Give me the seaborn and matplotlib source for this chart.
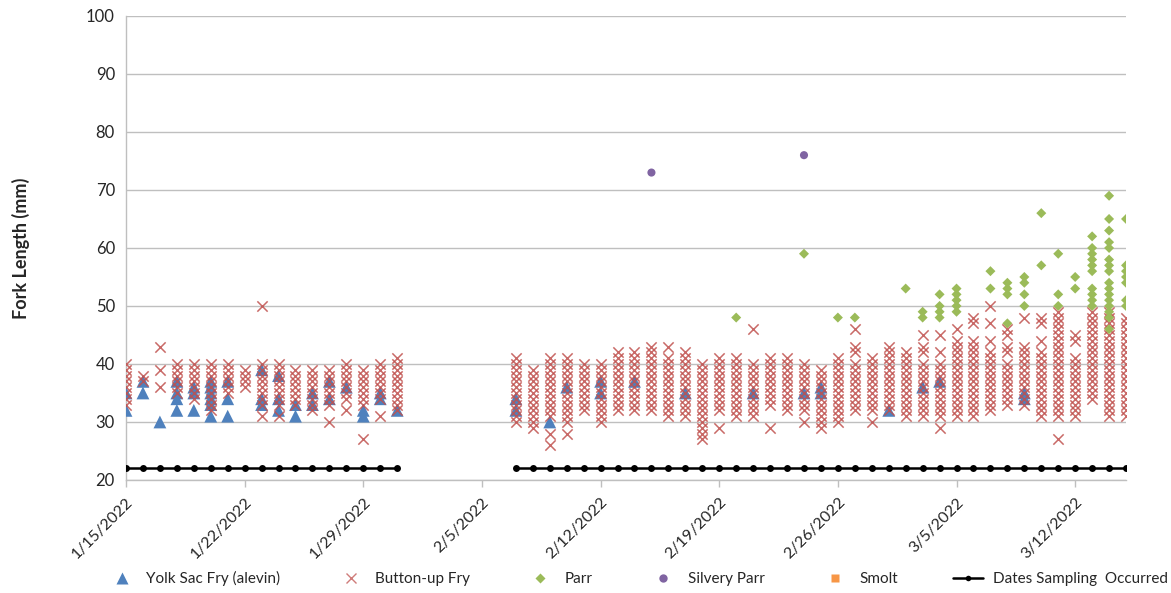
import pandas as pd
import seaborn as sns
import matplotlib.pyplot as plt
from matplotlib.lines import Line2D

# Days on which sampling occurred (line drawn at 22 mm)
sample_dates = [
    "2022-01-15", "2022-01-16", "2022-01-17", "2022-01-18", "2022-01-19", "2022-01-20",
    "2022-01-21", "2022-01-22", "2022-01-23", "2022-01-24", "2022-01-25", "2022-01-26",
    "2022-01-27", "2022-01-28", "2022-01-29", "2022-01-30", "2022-01-31",
    "2022-02-07", "2022-02-08", "2022-02-09", "2022-02-10", "2022-02-11", "2022-02-12",
    "2022-02-13", "2022-02-14", "2022-02-15", "2022-02-16", "2022-02-17", "2022-02-18",
    "2022-02-19", "2022-02-20", "2022-02-21", "2022-02-22", "2022-02-23", "2022-02-24",
    "2022-02-25", "2022-02-26", "2022-02-27", "2022-02-28", "2022-03-01", "2022-03-02",
    "2022-03-03", "2022-03-04", "2022-03-05", "2022-03-06", "2022-03-07", "2022-03-08",
    "2022-03-09", "2022-03-10", "2022-03-11", "2022-03-12", "2022-03-13", "2022-03-14",
    "2022-03-15",
]
sample_level = 22

# Button-up fry fork lengths, one list per sampling date
button_up = [
    [40, 39, 38, 37, 36, 35, 34, 33],
    [38, 37],
    [43, 39, 36],
    [40, 39, 38, 37, 36, 35],
    [40, 39, 38, 37, 36, 35, 34],
    [40, 39, 38, 37, 36, 35, 34, 33, 32],
    [40, 39, 38, 37, 36, 35],
    [39, 38, 37, 36],
    [50, 40, 39, 38, 37, 36, 35, 34, 33, 31],
    [40, 39, 38, 37, 36, 35, 34, 33, 31],
    [39, 38, 37, 36, 35, 34, 33],
    [39, 38, 37, 36, 35, 34, 33, 32],
    [39, 38, 37, 36, 35, 34, 33, 30],
    [40, 39, 38, 37, 36, 35, 34, 32],
    [39, 38, 37, 36, 35, 34, 33, 27],
    [40, 39, 38, 37, 36, 35, 34, 31],
    [41, 40, 39, 38, 37, 36, 35, 34, 33, 32],
    # February / March
    [41, 40, 39, 38, 37, 36, 35, 34, 33, 32, 31, 30],
    [39, 38, 37, 36, 35, 34, 33, 32, 31, 30, 29],
    [41, 40, 39, 38, 37, 36, 35, 34, 33, 32, 31, 28, 26],
    [41, 40, 39, 38, 37, 36, 35, 34, 33, 32, 31, 30, 28],
    [40, 39, 38, 37, 36, 35, 34, 33, 32],
    [40, 39, 38, 37, 36, 35, 34, 33, 32, 31, 30],
    [42, 41, 40, 39, 38, 37, 36, 35, 34, 33, 32],
    [42, 41, 40, 39, 38, 37, 36, 35, 34, 33, 32],
    [43, 42, 41, 40, 39, 38, 37, 36, 35, 34, 33, 32],
    [43, 41, 40, 39, 38, 37, 36, 35, 34, 33, 32, 31],
    [42, 41, 40, 39, 38, 37, 36, 35, 34, 33, 32, 31],
    [40, 39, 38, 37, 36, 35, 34, 33, 32, 31, 30, 29, 28, 27],
    [41, 40, 39, 38, 37, 36, 35, 34, 33, 32, 29],
    [41, 40, 39, 38, 37, 36, 35, 34, 33, 32, 31],
    [46, 40, 39, 38, 37, 36, 35, 34, 33, 32, 31],
    [41, 40, 39, 38, 37, 36, 35, 34, 33, 29],
    [41, 40, 39, 38, 37, 36, 35, 34, 33, 32],
    [40, 39, 38, 37, 36, 35, 34, 33, 32, 30],
    [39, 38, 37, 36, 35, 34, 33, 32, 31, 30, 29],
    [41, 40, 39, 38, 37, 36, 35, 34, 33, 32, 31, 30],
    [46, 43, 42, 40, 39, 38, 37, 36, 35, 34, 33, 32],
    [41, 40, 39, 38, 37, 36, 35, 34, 33, 32, 30],
    [43, 42, 41, 40, 39, 38, 37, 36, 35, 34, 33, 32],
    [42, 41, 40, 39, 38, 37, 36, 35, 34, 33, 32, 31],
    [45, 43, 42, 40, 39, 38, 37, 36, 35, 34, 33, 32, 31],
    [45, 42, 40, 39, 38, 37, 36, 35, 34, 33, 32, 31, 29],
    [46, 44, 43, 42, 41, 40, 39, 38, 37, 36, 35, 34, 33, 32, 31],
    [48, 47, 44, 43, 42, 41, 40, 39, 38, 37, 36, 35, 34, 33, 32, 31],
    [50, 47, 44, 42, 41, 40, 39, 38, 37, 36, 35, 34, 33, 32],
    [46, 45, 43, 42, 40, 39, 38, 37, 36, 35, 34, 33],
    [48, 43, 42, 41, 40, 39, 38, 37, 36, 35, 34, 33],
    [48, 47, 44, 42, 41, 40, 39, 38, 37, 36, 35, 34, 33, 32, 31],
    [49, 48, 47, 46, 45, 44, 43, 42, 41, 40, 39, 38, 37, 36, 35, 34, 33, 32, 31, 27],
    [45, 44, 41, 40, 39, 38, 37, 36, 35, 34, 33, 32, 31],
    [49, 48, 47, 46, 45, 44, 43, 42, 41, 40, 39, 38, 37, 36, 35, 34],
    [49, 48, 47, 46, 45, 44, 43, 42, 41, 40, 39, 38, 37, 36, 35, 34, 33, 32, 31],
    [48, 47, 46, 45, 44, 43, 42, 41, 40, 39, 38, 37, 36, 35, 34, 33, 32, 31],
]

# Yolk sac fry (alevin)
yolk_dates = [
    "2022-01-15", "2022-01-16", "2022-01-17", "2022-01-18", "2022-01-19", "2022-01-20",
    "2022-01-21", "2022-01-23", "2022-01-24", "2022-01-25", "2022-01-26", "2022-01-27",
    "2022-01-28", "2022-01-29", "2022-01-30", "2022-01-31", "2022-02-07", "2022-02-09",
    "2022-02-10", "2022-02-12", "2022-02-14", "2022-02-17", "2022-02-21", "2022-02-24",
    "2022-02-25", "2022-03-01", "2022-03-03", "2022-03-04", "2022-03-09",
]
yolk_lengths = [
    [35, 32], [37, 35], [30], [37, 35, 34, 32], [36, 35, 32], [37, 36, 35, 34, 33, 31],
    [37, 34, 31], [39, 34, 33], [38, 34, 32], [33, 31], [35, 33], [37, 34],
    [36], [32, 31], [35, 34], [32], [34, 32], [30],
    [36], [37, 35], [37], [35], [35], [35],
    [36, 35], [32], [36], [37], [35, 34],
]

# Parr
parr_dates = [
    "2022-02-20", "2022-02-24", "2022-02-26", "2022-02-27", "2022-03-02", "2022-03-03",
    "2022-03-04", "2022-03-05", "2022-03-07", "2022-03-08", "2022-03-09", "2022-03-10",
    "2022-03-11", "2022-03-12", "2022-03-13", "2022-03-14", "2022-03-15",
]
parr_lengths = [
    [48], [59], [48], [48], [53], [49, 48],
    [52, 50, 49, 48], [53, 52, 51, 50, 49], [56, 53], [54, 53, 52, 47], [55, 54, 52, 50], [66, 57],
    [59, 52, 50], [55, 53], [62, 60, 59, 58, 57, 56, 53, 52, 51, 50],
    [69, 65, 63, 61, 60, 58, 57, 56, 54, 53, 52, 51, 50, 49, 48, 46],
    [65, 57, 56, 55, 54, 51, 50],
]

# Silvery parr
silvery_dates = ["2022-02-15", "2022-02-24"]
silvery_lengths = [73, 76]

tick_dates = ["2022-01-15", "2022-01-22", "2022-01-29", "2022-02-05",
              "2022-02-12", "2022-02-19", "2022-02-26", "2022-03-05", "2022-03-12"]


def to_long(dates, lengths):
    df = pd.DataFrame({"date": pd.to_datetime(dates), "length": lengths})
    df = df.explode("length")
    df["length"] = df["length"].astype(float)
    return df


df_button = to_long(sample_dates, button_up)
df_yolk = to_long(yolk_dates, yolk_lengths)
df_parr = to_long(parr_dates, parr_lengths)
df_silvery = pd.DataFrame({"date": pd.to_datetime(silvery_dates), "length": silvery_lengths})

df_samp = pd.DataFrame({"date": pd.to_datetime(sample_dates)})
df_samp["level"] = sample_level
df_samp["segment"] = (df_samp["date"].diff() > pd.Timedelta(days=1)).cumsum()

sns.set_theme(style="white")
plt.rcParams["font.family"] = ["Lato", "DejaVu Sans"]

blue = "#4F81BD"
red = "#C0504D"
green = "#9BBB59"
purple = "#8064A2"
orange = "#F79646"

fig = plt.figure(figsize=(11.71, 5.93), dpi=100)
ax = fig.add_axes([0.1076, 0.1906, 0.854, 0.7825])

sns.scatterplot(data=df_yolk, x="date", y="length", marker="^", s=85, color=blue,
                edgecolor="none", ax=ax, legend=False, zorder=3)
sns.scatterplot(data=df_button, x="date", y="length", marker="x", s=55, color=red,
                linewidth=1.1, alpha=0.85, ax=ax, legend=False, zorder=4)
sns.scatterplot(data=df_parr, x="date", y="length", marker="D", s=26, color=green,
                edgecolor="none", ax=ax, legend=False, zorder=5)
sns.scatterplot(data=df_silvery, x="date", y="length", marker="o", s=34, color=purple,
                edgecolor="none", ax=ax, legend=False, zorder=5)
sns.lineplot(data=df_samp, x="date", y="level", units="segment", estimator=None,
             color="black", lw=1.8, marker="o", markersize=5, markeredgewidth=0,
             ax=ax, legend=False, zorder=6)

ax.set_ylim(20, 100)
ax.set_yticks(range(20, 101, 10))
ax.set_xlim(pd.Timestamp("2022-01-15"), pd.Timestamp("2022-03-15"))
ticks = pd.to_datetime(tick_dates)
ax.set_xticks(ticks)
ax.set_xticklabels([f"{d.month}/{d.day}/{d.year}" for d in ticks],
                   rotation=45, ha="right", rotation_mode="anchor", fontsize=11.5)
ax.tick_params(axis="y", labelsize=12, length=0, pad=8)
ax.tick_params(axis="x", length=5, color="#BFBFBF", width=1, pad=6, bottom=True, direction="out")

ax.yaxis.grid(True, color="#BFBFBF", lw=1)
ax.set_axisbelow(True)
for side in ["top", "right"]:
    ax.spines[side].set_visible(False)
for side in ["left", "bottom"]:
    ax.spines[side].set_color("#BFBFBF")
    ax.spines[side].set_linewidth(1)

ax.set_xlabel("")
ax.set_ylabel("Fork Length (mm)", fontsize=13, fontweight="bold", labelpad=40)

handles = [
    Line2D([], [], ls="none", marker="^", ms=8, color=blue, mec="none"),
    Line2D([], [], ls="none", marker="x", ms=7, color=red, mew=1.0, alpha=0.75),
    Line2D([], [], ls="none", marker="D", ms=5, color=green, mec="none"),
    Line2D([], [], ls="none", marker="o", ms=6, color=purple, mec="none"),
    Line2D([], [], ls="none", marker="s", ms=6, color=orange, mec="none"),
    Line2D([], [], color="black", lw=1.8, marker="o", ms=4, mew=0),
]
labels = ["Yolk Sac Fry (alevin)", "Button-up Fry", "Parr", "Silvery Parr", "Smolt",
          "Dates Sampling  Occurred"]
fig.legend(handles, labels, loc="lower center", bbox_to_anchor=(0.544, -0.012), ncol=6,
           frameon=False, fontsize=11, columnspacing=3.6, handletextpad=0.6,
           handlelength=2.0)

fig.savefig("out.png", dpi=100)
